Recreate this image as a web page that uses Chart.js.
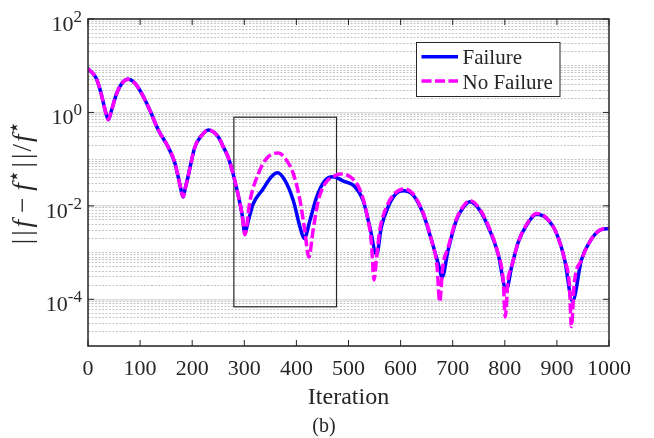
<!DOCTYPE html>
<html>
<head>
<meta charset="utf-8">
<script src="https://cdn.jsdelivr.net/npm/chart.js@4.4.1/dist/chart.umd.min.js"></script>
<style>
  html, body { margin: 0; padding: 0; background: #fff; }
  #wrap { width: 654px; height: 438px; }
</style>
</head>
<body>
<div id="wrap"><canvas id="chart" width="654" height="438"></canvas></div>
<script>
// Values (iteration, relative error)
// Both runs overlap up to ~300 iterations
const sharedIter = [0, 16, 26, 33, 39, 45, 55, 65, 77, 90, 103, 119, 135, 154, 167, 176, 183, 186, 192, 205, 218, 231, 250, 260, 269, 279, 289, 296];
const sharedErr = [8.7, 5.3, 2.35, 1.1, 0.7, 1.1, 2.55, 4.2, 5.1, 4.2, 2.55, 1.1, 0.42, 0.18, 0.081, 0.03, 0.0155, 0.022, 0.042, 0.18, 0.32, 0.42, 0.30, 0.18, 0.11, 0.046, 0.0155, 0.0063];

const failIter = [301, 308, 317, 336, 352, 364, 378, 394, 407, 415, 426, 439, 455, 470, 490, 512, 528, 541, 554, 563, 576, 592, 605, 624, 643, 659, 672, 680, 691, 707, 726, 733, 752, 771, 787, 803, 813, 826, 842, 861, 880, 899, 915, 930, 947, 963, 982, 1000];
const failErr = [0.0026, 0.0049, 0.011, 0.023, 0.042, 0.051, 0.035, 0.013, 0.0035, 0.002, 0.0049, 0.0155, 0.035, 0.042, 0.034, 0.026, 0.013, 0.0035, 0.0009, 0.0035, 0.0095, 0.0186, 0.021, 0.017, 0.0069, 0.0019, 0.00059, 0.0003, 0.0011, 0.0049, 0.011, 0.0123, 0.0081, 0.003, 0.00095, 0.00016, 0.00049, 0.0017, 0.0039, 0.0066, 0.0054, 0.0026, 0.00069, 0.00009, 0.00069, 0.0017, 0.003, 0.0033];

const noFailIter = [301, 311, 327, 340, 352, 365, 381, 394, 407, 416, 424, 432, 442, 455, 474, 483, 503, 522, 535, 544, 549, 554, 560, 573, 589, 608, 624, 643, 659, 670, 675, 681, 691, 707, 726, 733, 752, 771, 787, 797, 801, 806, 813, 826, 842, 861, 880, 899, 915, 924, 928, 933, 947, 963, 982, 1000];
const noFailErr = [0.0024, 0.013, 0.049, 0.095, 0.126, 0.136, 0.095, 0.049, 0.013, 0.003, 0.0008, 0.003, 0.013, 0.03, 0.044, 0.048, 0.042, 0.022, 0.0069, 0.0016, 0.00026, 0.0008, 0.003, 0.0095, 0.0186, 0.023, 0.018, 0.0072, 0.0019, 0.0005, 0.000089, 0.0005, 0.00126, 0.0052, 0.0117, 0.013, 0.0085, 0.0032, 0.00095, 0.00025, 0.000042, 0.00025, 0.0005, 0.0017, 0.004, 0.0069, 0.0055, 0.0026, 0.00069, 0.0002, 0.000026, 0.0002, 0.00069, 0.0017, 0.003, 0.0033];

// Axes
const xTicks = [0, 100, 200, 300, 400, 500, 600, 700, 800, 900, 1000];
const yTickExps = [2, 0, -2, -4];
const yMin = 1e-5, yMax = 100;

// Zoom box drawn around the failure region
const boxIter = [280, 477];
const boxErr = [0.79, 6.9e-5];

const seriesNames = ['Failure', 'No Failure'];
const BLUE = '#0000ff', MAGENTA = '#ff00ff', INK = '#262626';
const SERIF = "'Liberation Serif', 'Times New Roman', serif";

// minor grid at k*10^e
const yGrid = [];
for (let e = -5; e <= 1; e++) for (let k = 1; k <= 9; k++) yGrid.push(k * Math.pow(10, e));
yGrid.push(100);

function isLabelled(tick) {
  if (!tick) return false;
  const l = Math.log10(tick.value);
  return Math.abs(l - Math.round(l)) < 1e-9 && yTickExps.includes(Math.round(l));
}

const toPoints = (xs, ys) => xs.map((x, i) => ({ x, y: ys[i] }));

const decorations = {
  id: 'decorations',
  beforeDatasetsDraw(chart) {
    const { ctx, scales: { x, y } } = chart;
    ctx.save();
    ctx.strokeStyle = INK;
    ctx.lineWidth = 1.2;
    const x0 = x.getPixelForValue(boxIter[0]), x1 = x.getPixelForValue(boxIter[1]);
    const y0 = y.getPixelForValue(boxErr[0]), y1 = y.getPixelForValue(boxErr[1]);
    ctx.strokeRect(x0, y0, x1 - x0, y1 - y0);
    ctx.restore();
  },
  afterDraw(chart) {
    const { ctx, chartArea: a, scales: { x, y } } = chart;
    ctx.save();

    // axes box
    ctx.strokeStyle = INK;
    ctx.lineWidth = 1.5;
    ctx.strokeRect(a.left, a.top, a.right - a.left, a.bottom - a.top);

    // inward tick marks
    ctx.lineWidth = 1;
    ctx.beginPath();
    xTicks.forEach(v => {
      const px = x.getPixelForValue(v);
      ctx.moveTo(px, a.bottom); ctx.lineTo(px, a.bottom - 6);
      ctx.moveTo(px, a.top); ctx.lineTo(px, a.top + 6);
    });
    yTickExps.forEach(e => {
      const py = y.getPixelForValue(Math.pow(10, e));
      ctx.moveTo(a.left, py); ctx.lineTo(a.left + 6, py);
      ctx.moveTo(a.right, py); ctx.lineTo(a.right - 6, py);
    });
    ctx.stroke();

    // tick labels
    ctx.fillStyle = INK;
    ctx.textBaseline = 'alphabetic';
    ctx.font = '22px ' + SERIF;
    ctx.textAlign = 'center';
    xTicks.forEach(v => ctx.fillText(String(v), x.getPixelForValue(v), a.bottom + 29));

    yTickExps.forEach(e => {
      const py = y.getPixelForValue(Math.pow(10, e));
      const expText = String(e);
      ctx.font = '17px ' + SERIF;
      const ew = ctx.measureText(expText).width;
      ctx.font = '22px ' + SERIF;
      const bw = ctx.measureText('10').width;
      const right = a.left - 6;
      ctx.textAlign = 'left';
      ctx.fillText('10', right - ew - bw, py + 12);
      ctx.font = '17px ' + SERIF;
      ctx.fillText(expText, right - ew, py + 3);
    });

    // x title and caption
    ctx.textAlign = 'center';
    ctx.font = '24px ' + SERIF;
    ctx.fillText('Iteration', (a.left + a.right) / 2, 404);
    ctx.font = '20px ' + SERIF;
    ctx.fillText('(b)', 324, 432);

    // y title: ||f − f*||/f*
    const pieces = [
      { t: '|', s: 'n', pre: 0 },
      { t: '|', s: 'n', pre: 3 },
      { t: 'f', s: 'i', pre: 3 },
      { t: '\u2212', s: 'n', pre: 7 },
      { t: 'f', s: 'i', pre: 7 },
      { t: '\u22c6', s: 'sup', pre: 0 },
      { t: '|', s: 'n', pre: 2 },
      { t: '|', s: 'n', pre: 3 },
      { t: '/', s: 'n', pre: 2 },
      { t: 'f', s: 'i', pre: 2 },
      { t: '\u22c6', s: 'sup', pre: 0 }
    ];
    const fontOf = s => s === 'i' ? 'italic 27px ' + SERIF
      : s === 'sup' ? "22px 'DejaVu Sans', " + SERIF : '27px ' + SERIF;
    let total = 0;
    pieces.forEach(p => { ctx.font = fontOf(p.s); p.w = ctx.measureText(p.t).width; total += p.pre + p.w; });
    ctx.translate(31, (a.top + a.bottom) / 2);
    ctx.rotate(-Math.PI / 2);
    ctx.textAlign = 'left';
    let cx = -total / 2;
    pieces.forEach(p => {
      cx += p.pre;
      ctx.font = fontOf(p.s);
      ctx.fillText(p.t, cx, p.s === 'sup' ? -10 : 0);
      cx += p.w;
    });
    ctx.setTransform(1, 0, 0, 1, 0, 0);

    // legend
    const lx = 416.5, ly = 42.5, lw = 143.5, lh = 54;
    ctx.fillStyle = '#fff';
    ctx.fillRect(lx, ly, lw, lh);
    ctx.strokeStyle = INK;
    ctx.lineWidth = 1;
    ctx.strokeRect(lx, ly, lw, lh);
    const rows = [
      { name: seriesNames[0], color: BLUE, dash: [], ly: 56.7, ty: 64 },
      { name: seriesNames[1], color: MAGENTA, dash: [10, 3.5], ly: 81, ty: 89.3 }
    ];
    rows.forEach(r => {
      ctx.strokeStyle = r.color;
      ctx.lineWidth = 3.5;
      ctx.setLineDash(r.dash);
      ctx.beginPath();
      ctx.moveTo(421.5, r.ly); ctx.lineTo(458, r.ly);
      ctx.stroke();
      ctx.setLineDash([]);
      ctx.fillStyle = INK;
      ctx.font = '21px ' + SERIF;
      ctx.fillText(r.name, 462.5, r.ty);
    });
    ctx.restore();
  }
};

new Chart(document.getElementById('chart'), {
  type: 'line',
  data: {
    datasets: [
      {
        label: seriesNames[0],
        data: toPoints(sharedIter.concat(failIter), sharedErr.concat(failErr)),
        borderColor: BLUE,
        borderWidth: 3.5,
        pointRadius: 0,
        cubicInterpolationMode: 'monotone',
        order: 2
      },
      {
        label: seriesNames[1],
        data: toPoints(sharedIter.concat(noFailIter), sharedErr.concat(noFailErr)),
        borderColor: MAGENTA,
        borderWidth: 3.5,
        borderDash: [10, 3.5],
        pointRadius: 0,
        cubicInterpolationMode: 'monotone',
        order: 1
      }
    ]
  },
  options: {
    responsive: false,
    animation: false,
    devicePixelRatio: 1,
    layout: { padding: { top: 19, right: 45, left: 0, bottom: 0 } },
    plugins: { legend: { display: false }, tooltip: { enabled: false } },
    scales: {
      x: {
        type: 'linear',
        min: 0,
        max: 1000,
        ticks: { stepSize: 100, display: false },
        grid: { drawOnChartArea: false, drawTicks: false },
        border: { display: false },
        afterFit: s => { s.height = 92; }
      },
      y: {
        type: 'logarithmic',
        min: yMin,
        max: yMax,
        afterBuildTicks: s => { s.ticks = yGrid.map(v => ({ value: v })); },
        afterFit: s => { s.width = 88; },
        ticks: { display: false, autoSkip: false },
        grid: {
          drawTicks: false,
          color: c => isLabelled(c.tick) ? '#dcdcdc' : '#c4c4c4',
          lineWidth: c => isLabelled(c.tick) ? 1.5 : 1
        },
        border: {
          display: false,
          dash: c => (c.tick && !isLabelled(c.tick)) ? [2, 1.5] : []
        }
      }
    }
  },
  plugins: [decorations]
});
</script>
</body>
</html>
